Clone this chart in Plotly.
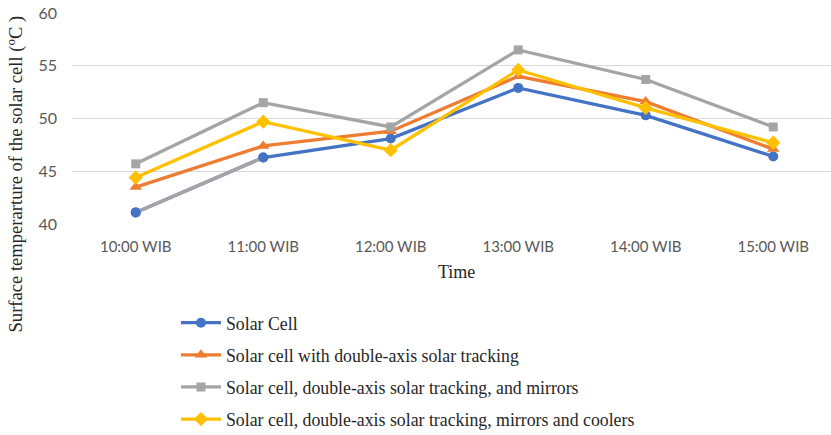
import plotly.graph_objects as go

# Hourly readings (WIB local time)
times = ["10:00 WIB", "11:00 WIB", "12:00 WIB", "13:00 WIB", "14:00 WIB", "15:00 WIB"]

# Surface temperature of the solar cell, degrees Celsius
solar_cell = [41.1, 46.3, 48.1, 52.9, 50.3, 46.4]
with_tracking = [43.5, 47.4, 48.8, 54.0, 51.6, 47.1]
with_mirrors = [45.7, 51.5, 49.2, 56.5, 53.7, 49.2]
with_coolers = [44.4, 49.7, 47.0, 54.6, 51.0, 47.7]

series_names = [
    "Solar Cell",
    "Solar cell with double-axis solar tracking",
    "Solar cell, double-axis solar tracking, and mirrors",
    "Solar cell, double-axis solar tracking, mirrors and coolers",
]
y_ticks = [40, 45, 50, 55, 60]

BLUE = "#4472c4"
ORANGE = "#ed7d31"
GRAY = "#a5a5a5"
YELLOW = "#ffc000"

fig = go.Figure()

styles = [
    (solar_cell, BLUE, "circle", 10),
    (with_tracking, ORANGE, "triangle-up", 11),
    (with_mirrors, GRAY, "square", 9),
    (with_coolers, YELLOW, "diamond", 11),
]

for i, (vals, color, symbol, size) in enumerate(styles):
    fig.add_trace(go.Scatter(
        x=times, y=vals, name=series_names[i], mode="lines+markers",
        line=dict(color=color, width=3.3),
        marker=dict(symbol=symbol, size=size, color=color),
        legendgroup=f"g{i}",
    ))
    if i == 0:
        # first segment of the base series is formatted gray
        fig.add_trace(go.Scatter(
            x=times[:2], y=solar_cell[:2], mode="lines",
            line=dict(color=GRAY, width=3.3), showlegend=False, hoverinfo="skip",
        ))
        fig.add_trace(go.Scatter(
            x=times[:2], y=solar_cell[:2], mode="markers",
            marker=dict(symbol="circle", size=10, color=BLUE),
            showlegend=False, hoverinfo="skip",
        ))

fig.update_layout(
    width=831, height=435,
    margin=dict(l=72, r=0, t=13, b=211, autoexpand=False),
    plot_bgcolor="white", paper_bgcolor="white",
    showlegend=True,
    legend=dict(
        x=0.137, y=-0.382, xanchor="left", yanchor="top",
        font=dict(family="Liberation Serif", size=17.8, color="#262626"),
        tracegroupgap=6, itemwidth=40,
        bgcolor="rgba(0,0,0,0)",
    ),
    xaxis=dict(
        type="category", range=[-0.5, 5.453],
        showgrid=False, showline=False, zeroline=False,
        ticks="", ticklabelstandoff=12,
        tickfont=dict(family="Lato", size=15, color="#595959"),
    ),
    yaxis=dict(
        range=[40, 60], tickvals=y_ticks,
        showgrid=True, gridcolor="#d9d9d9", gridwidth=1.4,
        zeroline=False, showline=False, ticks="", ticklabelstandoff=14,
        tickfont=dict(family="Lato", size=16, color="#595959"),
    ),
    annotations=[
        dict(text="Time", xref="paper", yref="paper", x=0.506, y=-0.227,
             xanchor="center", yanchor="middle", showarrow=False,
             font=dict(family="Liberation Serif", size=18, color="#262626")),
        dict(text="Surface temperarture of the solar cell (<sup>o</sup>C )",
             xref="paper", yref="paper", x=-0.075, y=0.235,
             xanchor="center", yanchor="middle", textangle=-90, showarrow=False,
             font=dict(family="Liberation Serif", size=18.6, color="#262626")),
    ],
)

fig.write_html("out.html")
